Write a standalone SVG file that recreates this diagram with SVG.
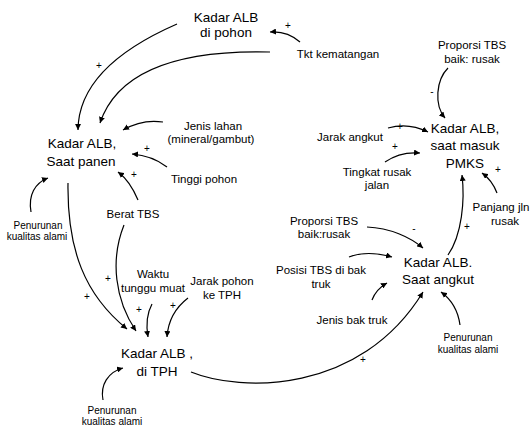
<svg xmlns="http://www.w3.org/2000/svg" width="531" height="427" viewBox="0 0 531 427">
<defs>
<marker id="ah" markerUnits="userSpaceOnUse" markerWidth="7" markerHeight="6" refX="6" refY="3" orient="auto">
<path d="M0,0 L6,3 L0,6 Z" fill="#000"/>
</marker>
<style>
text{font-family:"Liberation Sans",Arial,sans-serif;fill:#000;text-anchor:middle}
.n{font-size:13.5px}
.v{font-size:11.5px}
.s{font-size:10px}
.g{font-size:10px}
.c{fill:none;stroke:#000;stroke-width:1.2;marker-end:url(#ah)}
</style>
</defs>
<rect width="531" height="427" fill="#fff"/>
<g id="connectors">
<path class="c" d="M177,24 Q78.5,67 78,130"/>
<path class="c" d="M270,52 Q125,48.5 100,123"/>
<path class="c" d="M300,42 C292,35 282,31 270,32"/>
<path class="c" d="M163,122 C150,120 135,123 123,130"/>
<path class="c" d="M167,167 C158,160 145,155 132,154"/>
<path class="c" d="M138,200 C133,188 126,178 118,172"/>
<path class="c" d="M31,212 C28,195 35,183 48,178"/>
<path class="c" d="M68,183 C67,250 85,295 127,329"/>
<path class="c" d="M124,225 C110,260 115,300 136,331"/>
<path class="c" d="M152,304 C146,315 146,325 148,337"/>
<path class="c" d="M188,298 C175,308 168,322 167,337"/>
<path class="c" d="M103,400 C100,385 108,372 123,368"/>
<path class="c" d="M191,372 C240,392 360,395 423,292"/>
<path class="c" d="M460,325 C458,310 452,300 441,292"/>
<path class="c" d="M372,300 C375,292 380,287 387,283"/>
<path class="c" d="M349,257 C362,252 378,253 392,257"/>
<path class="c" d="M367,227 C390,228 410,237 423,248"/>
<path class="c" d="M448,255 C462,235 465,200 462,175"/>
<path class="c" d="M497,193 C494,185 489,178 482,173"/>
<path class="c" d="M385,162 C395,155 408,152 420,153"/>
<path class="c" d="M388,128 C402,124 416,126 428,132"/>
<path class="c" d="M448,68 C436,80 434,105 445,118"/>
</g>
<g id="signs" class="g">
<text x="99" y="69">+</text>
<text x="288" y="29">+</text>
<text x="147" y="152">+</text>
<text x="134" y="178">+</text>
<text x="108" y="282">+</text>
<text x="87" y="300">+</text>
<text x="139" y="313">+</text>
<text x="173" y="309">+</text>
<text x="363" y="363">+</text>
<text x="414" y="232">-</text>
<text x="467" y="230">+</text>
<text x="498" y="173">+</text>
<text x="395" y="150">+</text>
<text x="400" y="130">+</text>
<text x="432" y="95">-</text>
</g>
<g id="alb-pohon"><text class="n" x="226" y="22">Kadar ALB</text><text class="n" x="226" y="37">di pohon</text></g>
<g id="tkt-kematangan"><text class="v" x="338" y="58">Tkt kematangan</text></g>
<g id="proporsi-1"><text class="v" x="472" y="49">Proporsi TBS</text><text class="v" x="472" y="63">baik: rusak</text></g>
<g id="alb-pmks"><text class="n" x="465" y="133">Kadar ALB,</text><text class="n" x="465" y="150">saat masuk</text><text class="n" x="465" y="168">PMKS</text></g>
<g id="jarak-angkut"><text class="v" x="350" y="141">Jarak angkut</text></g>
<g id="tingkat-rusak"><text class="v" x="377" y="176">Tingkat rusak</text><text class="v" x="377" y="189">jalan</text></g>
<g id="jenis-lahan"><text class="v" x="213" y="130">Jenis lahan</text><text class="v" x="211" y="143">(mineral/gambut)</text></g>
<g id="alb-panen"><text class="n" x="82" y="148">Kadar ALB,</text><text class="n" x="81" y="166">Saat panen</text></g>
<g id="tinggi-pohon"><text class="v" x="204" y="183">Tinggi pohon</text></g>
<g id="berat-tbs"><text class="v" x="133" y="218">Berat TBS</text></g>
<g id="penurunan-1"><text class="s" x="38" y="229">Penurunan</text><text class="s" x="37" y="240">kualitas alami</text></g>
<g id="panjang-jln"><text class="v" x="501" y="211">Panjang jln</text><text class="v" x="505" y="225">rusak</text></g>
<g id="proporsi-2"><text class="v" x="324" y="225">Proporsi TBS</text><text class="v" x="324" y="238">baik:rusak</text></g>
<g id="posisi-tbs"><text class="v" x="321" y="274">Posisi TBS di bak</text><text class="v" x="321" y="288">truk</text></g>
<g id="alb-angkut"><text class="n" x="438" y="267">Kadar ALB.</text><text class="n" x="438" y="284">Saat angkut</text></g>
<g id="jenis-bak"><text class="v" x="352" y="324">Jenis bak truk</text></g>
<g id="penurunan-2"><text class="s" x="468" y="341">Penurunan</text><text class="s" x="468" y="353">kualitas alami</text></g>
<g id="waktu"><text class="v" x="153" y="278">Waktu</text><text class="v" x="153" y="292">tunggu muat</text></g>
<g id="jarak-pohon"><text class="v" x="222" y="285">Jarak pohon</text><text class="v" x="222" y="299">ke TPH</text></g>
<g id="alb-tph"><text class="n" x="157" y="358">Kadar ALB ,</text><text class="n" x="157" y="376">di TPH</text></g>
<g id="penurunan-3"><text class="s" x="112" y="414">Penurunan</text><text class="s" x="112" y="425">kualitas alami</text></g>
</svg>
